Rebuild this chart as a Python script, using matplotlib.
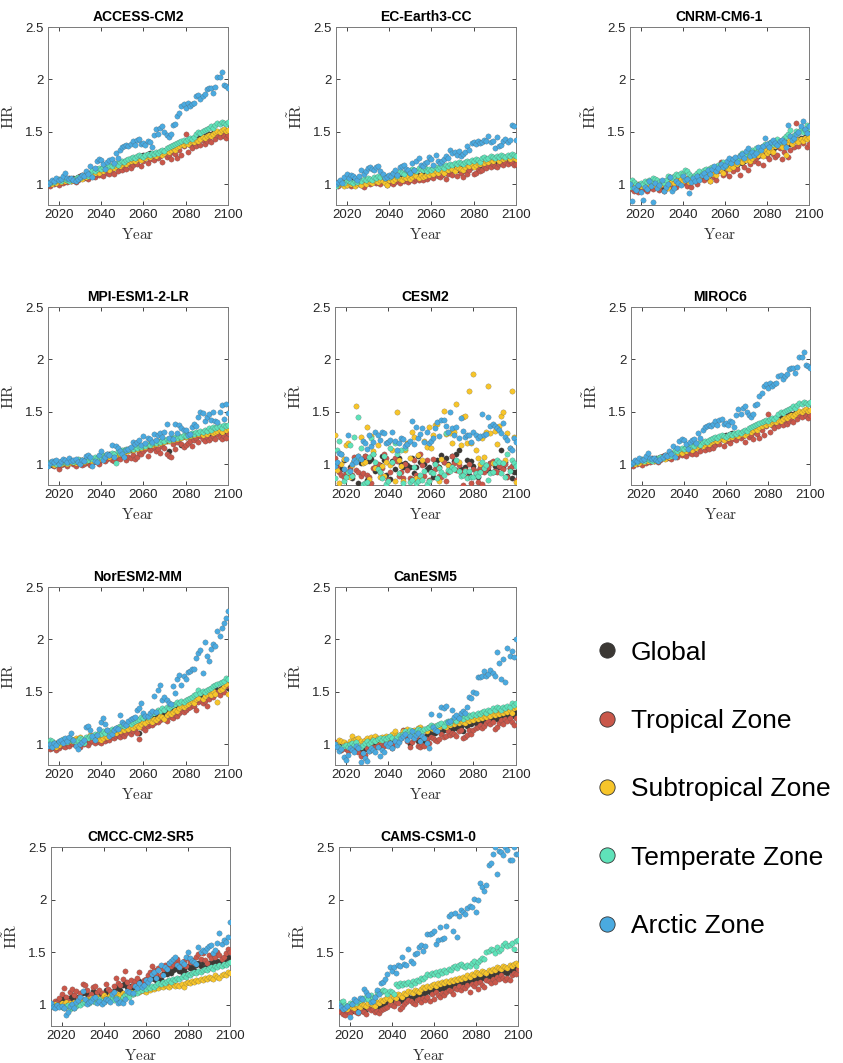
import matplotlib
matplotlib.use('Agg')
import matplotlib.pyplot as plt
from matplotlib.lines import Line2D
import numpy as np

years = list(range(2015, 2101))
zones = ['Global', 'Tropical Zone', 'Subtropical Zone', 'Temperate Zone', 'Arctic Zone']
colors = ['#3b3834', '#c9574a', '#f7c52a', '#5fe2b9', '#4aaae0']

# values, x100 (one per year 2015..2100)
access_global = [100,101,102,101,103,102,104,103,105,104, 105,104,106,105,107,108,107,109,110,109,
                 111,110,112,113,112,114,115,114,116,117, 116,118,119,118,120,121,120,122,123,124,
                 125,124,126,127,126,128,127,129,130,129, 129,128,130,131,130,132,133,132,134,135,
                 134,136,137,139,138,140,141,140,142,143, 142,144,145,144,146,147,148,147,149,148,
                 150,149,151,150,149,150]
access_trop = [99,98,101,100,102,99,103,101,104,102, 106,103,105,102,104,108,109,106,107,105,
               108,111,107,110,109,112,108,113,111,110, 113,110,115,112,117,113,116,114,119,115,
               118,121,119,124,117,122,126,120,124,127, 123,128,125,127,121,130,126,128,124,131,
               129,125,133,128,136,148,131,137,134,139, 136,140,137,142,138,141,144,140,146,143,
               147,145,150,146,144,147]
access_subt = [100,101,100,102,101,103,102,104,103,105, 104,103,105,104,106,107,105,108,107,109,
               110,109,111,112,111,113,112,114,115,113, 116,115,117,118,117,119,120,119,121,122,
               123,122,124,125,123,126,125,127,126,128, 128,127,129,131,128,130,132,131,133,134,
               133,135,136,138,137,139,138,140,141,140, 142,141,143,145,144,146,147,146,148,150,
               151,150,152,153,151,152]
access_temp = [100,101,103,102,104,105,103,106,105,104, 103,105,104,106,107,106,108,109,110,108,
               111,113,112,114,115,114,116,117,116,118, 117,119,120,118,121,122,121,123,124,125,
               126,125,127,128,127,126,128,129,128,130, 129,131,130,132,133,132,134,135,136,137,
               138,139,140,141,142,141,143,144,143,145, 148,150,149,151,152,153,154,155,154,156,
               158,157,159,158,157,159]
access_arct = [100,102,104,103,106,104,105,108,111,106, 105,106,104,103,105,107,109,108,112,110,
               117,107,115,122,124,123,119,114,121,123, 124,120,130,125,133,135,136,137,136,138,
               141,137,142,143,138,139,137,141,140,135, 147,153,148,154,155,150,147,145,148,156,
               157,165,168,175,176,173,177,175,176,177, 184,185,181,184,186,191,192,192,187,193,
               202,202,207,195,194,192]

ec_global = [100,101,100,102,101,100,102,101,103,102, 101,103,102,101,103,104,102,104,103,105,
             104,103,105,104,106,105,104,106,105,107, 106,107,108,106,108,107,109,108,107,109,
             108,110,109,108,110,111,109,111,112,110, 112,111,113,112,114,113,115,114,113,115,
             114,116,115,117,116,118,117,119,118,120, 121,119,120,122,121,123,122,121,123,124,
             123,122,125,124,123,122]
ec_trop = [99,98,101,100,102,99,100,98,101,99, 100,102,99,97,101,103,100,102,104,101,
           103,100,104,102,99,101,104,100,102,104, 101,105,103,106,102,104,107,103,105,104,
           106,104,108,105,107,109,106,110,108,107, 109,111,105,110,112,109,113,108,114,111,
           107,112,110,113,116,110,111,114,112,113, 117,115,118,116,119,117,116,119,120,118,
           121,119,122,120,118,119]
ec_subt = [100,99,101,100,98,99,101,100,102,98, 100,101,99,102,100,103,102,101,104,103,
           102,104,103,101,99,104,106,103,105,107, 105,104,107,106,108,105,107,109,108,106,
           109,107,108,110,109,111,110,112,111,113, 112,111,114,113,115,114,112,116,115,114,
           113,116,118,117,119,116,118,120,119,121, 120,122,121,123,122,124,126,122,125,124,
           125,126,124,127,125,124]
ec_temp = [98,101,103,102,101,104,103,102,101,103, 102,104,103,105,104,106,105,104,107,106,
           108,107,109,106,108,107,109,111,110,108, 112,111,110,113,112,111,114,113,112,115,
           114,113,115,112,114,113,115,116,114,116, 117,115,118,117,119,118,120,119,121,120,
           119,121,122,121,123,122,124,123,121,125, 126,124,125,127,126,125,127,126,128,127,
           126,128,127,129,128,127]
ec_arct = [100,102,104,101,107,110,106,109,108,106, 104,108,113,110,112,115,116,114,113,116,
           117,112,110,106,107,109,108,111,113,109, 116,117,118,114,113,111,120,113,122,125,
           118,117,120,121,126,124,118,128,122,120, 122,124,127,125,133,130,131,128,132,127,
           129,131,136,133,139,140,138,141,139,140, 142,141,146,140,141,134,145,136,137,141,
           143,140,142,156,155,142]

cnrm_global = [100,99,98,97,98,96,98,99,97,100, 99,101,98,100,99,97,98,100,99,101,
               100,102,101,103,102,104,103,102,105,104, 106,105,104,107,109,108,110,109,111,112,
               110,112,114,113,115,114,116,117,115,118, 119,118,121,120,122,124,123,125,124,126,
               128,127,129,131,130,132,131,134,133,135, 136,135,138,137,139,140,138,142,141,143,
               142,144,143,145,144,146]
cnrm_trop = [99,95,93,96,92,94,95,97,93,96, 98,95,100,97,94,99,93,96,101,98,
             102,99,97,103,100,104,101,98,106,97, 103,107,100,105,108,104,111,106,103,109,
             107,104,112,121,109,111,114,108,116,112, 118,114,109,121,116,124,113,119,126,122,
             125,120,128,118,130,127,124,133,129,126, 128,134,124,131,137,126,133,140,135,158,
             136,141,139,144,135,138]
cnrm_subt = [101,99,100,97,100,98,99,101,98,100, 102,100,99,101,98,100,102,99,96,101,
             103,101,104,102,105,103,106,104,102,105, 107,106,108,105,110,109,111,108,103,110,
             112,109,114,113,111,116,115,114,117,116, 120,119,122,121,124,123,126,122,125,127,
             129,128,131,127,133,130,132,134,131,136, 138,136,135,139,128,140,142,138,141,143,
             140,143,141,144,143,145]
cnrm_temp = [97,104,102,100,99,101,100,103,102,104, 103,106,105,104,102,103,101,104,108,107,
             106,108,110,109,111,110,113,112,110,108, 107,109,111,112,110,113,114,112,115,116,
             114,116,118,119,121,117,120,122,121,124, 125,123,128,130,126,129,131,128,133,130,
             134,132,135,136,138,137,139,140,138,141, 143,140,142,144,146,148,152,145,147,151,
             149,153,150,152,156,154]
cnrm_arct = [100,84,96,94,99,92,85,97,95,103, 98,83,101,96,99,104,93,97,100,107,
             93,96,103,101,99,108,104,105,91,102, 106,103,108,104,109,111,107,113,110,114,
             117,112,115,119,116,118,122,125,120,124, 126,121,127,129,125,132,134,127,131,128,
             130,135,133,136,144,138,135,140,142,139, 137,141,142,140,135,156,146,142,144,148,
             150,155,160,153,149,155]

mpi_global = [100,101,99,102,100,99,101,100,102,101, 103,102,101,103,102,104,103,102,104,105,
              103,104,106,105,107,106,108,107,109,110, 108,110,109,111,112,110,113,112,114,113,
              115,114,116,115,117,116,118,117,119,120, 119,121,120,122,121,123,122,112,124,123,
              125,124,126,118,127,126,128,127,129,128, 130,129,131,130,129,131,132,130,131,133,
              132,131,133,128,134,132]
mpi_trop = [99,100,102,98,101,95,99,101,100,98, 101,103,100,98,102,101,99,100,103,101,
            99,101,103,102,100,104,106,103,105,107, 104,103,108,106,105,110,108,104,107,106,
            109,105,107,111,110,112,114,108,113,115, 116,112,114,111,117,115,110,108,107,119,
            114,121,124,119,116,118,120,122,117,123, 125,121,127,124,122,126,123,125,127,124,
            129,126,124,127,125,130]
mpi_subt = [100,101,100,99,102,101,100,101,102,100, 101,102,103,101,102,103,104,102,103,104,
            105,103,104,106,105,107,106,108,109,107, 110,108,109,111,110,112,111,113,112,114,
            113,115,114,116,115,117,116,118,119,118, 120,119,121,120,122,121,123,122,124,123,
            125,124,126,125,127,126,128,127,129,128, 130,129,131,128,130,129,131,132,130,131,
            132,133,131,134,133,134]
mpi_temp = [100,102,101,103,100,102,101,103,102,101, 103,104,102,103,105,102,104,103,105,104,
            106,105,107,106,108,107,109,108,110,109, 111,110,101,112,111,113,112,114,113,115,
            114,116,115,117,116,118,117,119,118,120, 121,120,122,121,123,122,124,123,125,124,
            126,125,127,126,128,127,129,128,130,129, 131,130,132,131,133,132,134,133,135,134,
            135,136,134,137,136,137]
mpi_arct = [98,101,103,102,104,100,103,105,104,102, 106,103,104,105,102,100,104,103,108,109,
            107,98,103,102,109,112,104,107,110,109, 118,107,117,115,112,110,107,113,114,116,
            121,119,121,123,118,127,120,125,124,121, 129,123,128,130,126,131,138,125,130,124,
            138,130,137,134,133,133,128,129,135,138, 136,145,150,149,141,145,148,142,150,141,
            140,150,156,143,157,149]

cesm_global = [103,101,98,95,104,92,90,97,87,103, 104,82,101,105,108,85,103,105,110,93,
               97,99,108,104,90,85,86,103,95,104, 106,100,97,101,99,97,106,91,97,108,
               102,101,100,95,97,93,88,101,104,97, 109,102,106,100,95,108,103,110,113,95,
               91,97,104,90,103,98,91,88,96,93, 95,99,94,101,92,98,99,97,113,96,
               102,89,96,87,92,92]
cesm_trop = [106,97,92,90,88,91,89,95,90,107, 94,92,89,91,108,90,88,82,96,97,
             100,92,96,110,106,85,92,101,106,103, 89,92,87,100,94,87,86,104,90,88,
             110,99,89,104,85,92,105,95,98,89, 88,102,84,92,98,108,101,94,99,92,
             80,94,88,100,82,95,93,83,96,81, 92,95,97,101,103,93,92,98,97,95,
             100,88,96,98,100,85]
cesm_subt = [128,94,82,100,105,118,120,88,99,103, 155,108,126,101,102,135,86,127,112,96,
             118,88,98,89,102,121,99,113,84,150, 104,98,84,113,120,106,131,126,87,109,
             88,104,122,116,135,115,128,137,138,84, 105,151,129,99,130,120,131,157,102,118,
             145,146,120,170,120,186,113,106,100,125, 107,131,175,130,101,132,119,136,146,150,
             104,130,115,170,126,83]
cesm_temp = [87,113,122,110,84,88,92,118,89,126, 105,145,115,81,82,83,107,125,110,102,
             95,92,87,108,81,84,115,102,120,110, 91,113,82,115,119,83,85,97,82,84,
             90,85,93,81,84,92,91,100,87,96, 92,90,130,94,93,97,95,104,93,89,
             90,93,87,93,88,88,91,89,92,102, 96,99,85,91,92,101,104,102,91,101,
             88,110,93,104,101,98]
cesm_arct = [98,102,111,110,95,105,128,93,100,104, 102,108,105,122,120,114,128,117,121,131,
             128,123,131,130,120,121,123,131,122,113, 120,125,124,117,119,122,141,119,135,125,
             129,134,121,131,120,122,125,134,140,127, 142,142,136,131,150,134,128,135,125,144,
             132,126,128,128,121,131,128,125,127,148, 128,129,145,136,138,136,134,133,130,139,
             126,123,115,113,125,121]

nor_global = [100,99,98,100,101,99,102,101,103,102, 101,103,102,104,103,105,104,103,106,105,
              104,106,107,105,108,107,109,108,110,109, 111,110,112,111,113,114,115,114,116,115,
              117,118,116,111,119,120,121,122,123,124, 125,127,126,128,129,130,131,133,132,134,
              135,136,138,137,139,140,141,142,144,145, 146,148,147,149,150,149,152,151,153,154,
              151,153,154,155,156,154]
nor_trop = [98,95,96,97,94,96,99,98,97,100, 98,101,100,99,102,97,101,100,104,99,
            102,103,101,104,102,101,106,103,105,104, 107,106,108,109,107,110,108,111,113,110,
            112,114,111,105,116,115,113,117,119,118, 120,122,121,123,125,124,122,127,126,125,
            128,127,130,132,131,133,134,135,137,136, 133,140,142,139,141,136,143,146,145,148,
            150,147,152,150,155,156]
nor_subt = [99,100,101,98,97,99,101,103,102,104, 103,105,104,106,105,107,103,104,106,107,
            109,108,106,107,105,104,106,108,107,109, 110,112,111,113,112,114,113,115,114,116,
            115,117,118,116,119,121,120,122,123,121, 124,123,125,127,126,124,128,130,129,131,
            133,132,134,136,135,137,138,140,141,139, 143,144,149,143,146,148,150,147,151,148,
            140,152,153,155,157,148]
nor_temp = [101,104,103,101,100,102,103,105,104,102, 104,105,103,102,104,106,105,101,107,106,
            108,107,110,109,111,110,112,111,113,112, 114,113,115,116,117,118,117,119,120,119,
            121,122,123,124,126,125,127,126,128,130, 130,131,133,132,134,133,135,134,136,137,
            138,140,139,141,140,142,143,144,145,147, 148,152,149,151,150,152,153,154,155,156,
            157,158,159,160,163,162]
nor_arct = [98,100,97,101,99,103,104,101,106,103, 107,111,104,98,95,100,102,104,116,117,
            113,108,104,109,114,121,125,119,113,108, 110,113,115,114,128,121,119,118,122,124,
            125,126,133,134,139,130,127,127,130,132, 146,131,152,156,142,145,142,139,138,155,
            149,162,166,156,165,162,169,170,172,172, 182,187,190,168,197,184,179,191,196,194,
            208,203,211,216,220,227]

can_global = [101,99,98,97,96,97,95,96,97,98, 96,95,94,96,95,97,98,96,99,98,
              100,99,101,102,103,101,104,105,103,106, 107,108,110,111,109,100,110,108,106,103,
              104,108,102,109,112,110,113,111,114,112, 111,113,115,114,116,113,117,115,118,116,
              112,119,117,120,119,121,120,122,121,123, 122,124,121,125,123,126,124,127,125,128,
              126,129,128,130,127,131]
can_trop = [102,98,96,94,97,95,93,96,98,97, 94,92,89,91,90,96,93,98,95,97,
            99,97,100,98,103,101,98,96,100,102, 104,106,113,108,103,97,102,105,107,98,
            97,99,98,105,101,107,106,104,103,105, 110,107,108,112,109,111,110,108,112,113,
            106,107,109,113,110,113,115,116,118,115, 117,120,122,119,121,114,116,120,123,119,
            124,122,125,121,118,125]
can_subt = [99,101,104,103,102,100,99,103,108,104, 105,106,103,101,104,106,103,107,105,108,
            106,104,107,105,108,106,107,110,112,109, 108,110,112,111,114,110,112,113,111,115,
            116,114,113,112,116,115,114,117,113,116, 118,117,116,119,118,120,119,121,120,122,
            121,120,123,122,124,123,125,124,126,125, 127,126,128,127,129,128,130,129,131,130,
            132,131,133,130,134,135]
can_temp = [100,98,97,96,98,99,97,100,101,99, 102,98,97,99,101,103,100,102,104,103,
            105,106,104,106,105,107,108,106,104,107, 109,108,110,112,111,113,110,109,112,114,
            113,112,114,115,116,118,117,116,118,119, 120,117,121,122,120,123,124,122,125,126,
            124,127,126,128,127,129,128,130,129,131, 132,130,133,132,134,133,135,134,133,135,
            134,136,135,139,137,139]
can_arct = [100,97,93,95,88,85,90,96,94,92, 98,96,83,91,87,84,93,96,94,92,
            97,89,94,92,100,98,101,96,103,99, 102,106,108,110,104,108,112,106,109,111,
            103,108,106,101,96,129,116,113,112,128, 135,134,136,121,122,133,126,128,125,130,
            132,130,135,145,144,150,149,164,164,165, 170,165,167,171,168,165,188,177,162,181,
            159,192,184,189,183,200]

cmcc_global = [100,101,102,104,103,106,108,105,103,107, 109,106,108,105,107,111,113,110,106,109,
               113,112,110,111,109,107,114,111,112,108, 113,117,116,114,119,122,117,115,118,116,
               118,121,123,117,120,121,124,126,128,125, 124,127,125,129,131,129,132,130,133,134,
               136,132,131,134,130,137,135,136,133,138, 140,137,141,136,134,140,138,141,139,142,
               141,138,140,143,146,144]
cmcc_trop = [101,100,104,103,107,110,116,108,104,112, 115,109,113,107,111,120,119,114,108,110,
             117,118,112,114,111,108,120,115,113,109, 118,126,121,119,125,132,122,117,124,119,
             123,126,131,120,124,125,128,131,137,133, 129,135,128,134,138,136,140,137,139,142,
             144,140,138,142,137,145,141,143,140,146, 148,144,149,143,140,147,145,148,146,150,
             147,144,146,149,153,150]
cmcc_subt = [99,100,101,99,100,102,101,103,100,102, 101,103,102,104,103,105,104,106,105,107,
             106,107,108,106,107,109,108,107,109,110, 108,109,110,109,111,110,108,111,112,110,
             111,113,112,114,113,112,115,114,116,115, 117,116,118,117,119,118,117,119,120,118,
             119,118,120,117,121,122,121,123,122,124, 123,125,124,126,125,127,126,125,128,127,
             126,128,129,128,131,130]
cmcc_temp = [100,99,98,100,99,98,97,99,100,96, 98,97,99,101,100,102,103,104,102,105,
             104,103,105,106,104,103,106,105,107,106, 105,107,106,104,108,109,110,108,111,110,
             112,111,113,114,116,115,117,116,118,117, 119,121,120,122,121,123,124,122,125,124,
             126,125,127,128,127,129,128,130,131,130, 132,131,133,134,133,135,136,134,137,136,
             138,137,139,138,140,141]
cmcc_arct = [102,98,97,100,98,99,97,90,93,99, 101,97,103,105,108,113,106,101,103,104,
             107,108,102,104,101,103,106,105,103,110, 112,106,102,103,102,106,113,112,103,111,
             118,116,121,117,119,124,122,125,129,131, 126,133,138,128,136,134,140,142,144,146,
             138,136,141,139,146,150,145,142,141,139, 155,150,152,151,154,156,157,149,152,159,
             168,158,162,160,165,179]

cams_global = [99,97,96,95,97,96,94,95,97,96, 95,98,97,96,99,98,97,96,99,98,
               100,101,102,104,103,102,104,103,105,106, 104,106,105,108,107,106,109,108,107,110,
               112,111,113,112,114,115,113,116,115,117, 116,118,117,119,118,120,119,121,120,122,
               121,123,122,124,123,126,125,124,127,126, 125,128,127,129,128,131,130,129,132,131,
               130,133,132,134,135,138]
cams_trop = [97,93,91,90,94,92,96,95,93,92, 95,94,93,91,97,95,96,93,94,92,
             95,96,97,98,101,100,99,103,102,96, 98,101,103,105,104,102,101,105,106,103,
             107,105,108,104,110,106,112,109,108,111, 109,112,114,113,110,116,115,118,114,117,
             116,119,112,120,118,121,115,122,119,117, 124,123,121,125,122,127,125,128,126,124,
             126,124,128,130,129,134]
cams_subt = [100,99,97,98,96,99,98,97,100,99, 98,101,100,99,102,101,100,99,103,102,
             105,104,106,107,105,109,108,107,110,109, 108,111,110,113,112,111,114,113,112,115,
             117,116,118,117,119,120,118,121,120,122, 121,123,122,124,123,125,124,126,125,127,
             126,128,127,129,128,131,130,129,132,131, 130,133,132,134,133,136,135,134,137,136,
             135,138,137,139,140,138]
cams_temp = [101,103,104,100,99,102,101,103,102,104, 105,107,106,108,106,109,107,108,112,113,
             112,114,113,110,113,112,110,120,118,121, 119,121,120,122,119,123,121,124,123,126,
             125,127,129,128,130,129,131,128,132,130, 133,131,134,133,136,137,135,138,139,137,
             136,138,137,140,142,137,141,143,145,144, 150,151,153,152,149,155,151,153,157,159,
             156,157,159,153,161,162]
cams_arct = [100,98,96,97,99,89,101,106,104,93, 107,106,115,112,109,103,104,108,114,110,
             121,122,125,129,136,132,136,130,138,137, 146,139,138,153,142,140,148,149,155,157,
             151,156,167,167,168,170,158,162,174,163, 164,175,184,186,170,187,165,184,190,188,
             186,192,194,193,201,188,200,216,212,208, 214,233,235,243,250,224,246,245,242,250,
             247,238,238,250,243,243]

# MIROC6 panel shows the same points as ACCESS-CM2
models = [
    ('ACCESS-CM2', [access_global, access_trop, access_subt, access_temp, access_arct]),
    ('EC-Earth3-CC', [ec_global, ec_trop, ec_subt, ec_temp, ec_arct]),
    ('CNRM-CM6-1', [cnrm_global, cnrm_trop, cnrm_subt, cnrm_temp, cnrm_arct]),
    ('MPI-ESM1-2-LR', [mpi_global, mpi_trop, mpi_subt, mpi_temp, mpi_arct]),
    ('CESM2', [cesm_global, cesm_trop, cesm_subt, cesm_temp, cesm_arct]),
    ('MIROC6', [access_global, access_trop, access_subt, access_temp, access_arct]),
    ('NorESM2-MM', [nor_global, nor_trop, nor_subt, nor_temp, nor_arct]),
    ('CanESM5', [can_global, can_trop, can_subt, can_temp, can_arct]),
    ('CMCC-CM2-SR5', [cmcc_global, cmcc_trop, cmcc_subt, cmcc_temp, cmcc_arct]),
    ('CAMS-CSM1-0', [cams_global, cams_trop, cams_subt, cams_temp, cams_arct]),
]

# axes boxes in pixels: left, top, right, bottom
W, H = 843, 1063
boxes = [(48, 27, 228, 205), (336, 27, 516, 205), (630, 27, 809, 205),
         (48, 307, 228, 485), (335, 307, 516, 485), (631, 307, 810, 485),
         (48, 587, 228, 765), (335, 587, 516, 765),
         (51, 847, 230, 1026), (339, 847, 518, 1026)]

plt.rcParams['font.family'] = ['Liberation Sans', 'DejaVu Sans']
plt.rcParams['mathtext.fontset'] = 'cm'

fig = plt.figure(figsize=(W / 100, H / 100), dpi=100)

for (name, series), (l, t, r, b) in zip(models, boxes):
    ax = fig.add_axes([l / W, 1 - b / H, (r - l) / W, (b - t) / H])
    for vals, c in zip(series, colors):
        ax.scatter(years, np.array(vals) / 100, s=15, c=c, edgecolors='#4a4a4a',
                   linewidths=0.15, zorder=3)
    ax.set_xlim(2015, 2100)
    ax.set_ylim(0.8, 2.5)
    ax.set_xticks([2020, 2040, 2060, 2080, 2100])
    ax.set_yticks([1, 1.5, 2, 2.5])
    ax.set_yticklabels(['1', '1.5', '2', '2.5'])
    ax.tick_params(direction='in', length=3, width=0.6, labelsize=9.5, colors='#262626',
                   top=True, right=True, pad=3)
    for sp in ax.spines.values():
        sp.set_color('#7a7a7a')
        sp.set_linewidth(0.7)
    ax.set_title(name, fontsize=10, fontweight='bold', pad=4)
    ax.set_xlabel(r'$\mathrm{Year}$', fontsize=11, labelpad=4, color='#333333')
    ax.set_ylabel(r'$\tilde{\mathrm{HR}}$', fontsize=11.5, labelpad=6, color='#333333')

handles = [Line2D([], [], ls='none', marker='o', markersize=11, markerfacecolor=c,
                  markeredgecolor='#333333', markeredgewidth=0.6) for c in colors]
fig.legend(handles, zones, loc='center left', bbox_to_anchor=(0.689, 0.2575),
           frameon=False, fontsize=19, labelspacing=1.68, handlelength=1.0,
           handletextpad=0.4, borderpad=0)

fig.savefig('out.png', dpi=100)
